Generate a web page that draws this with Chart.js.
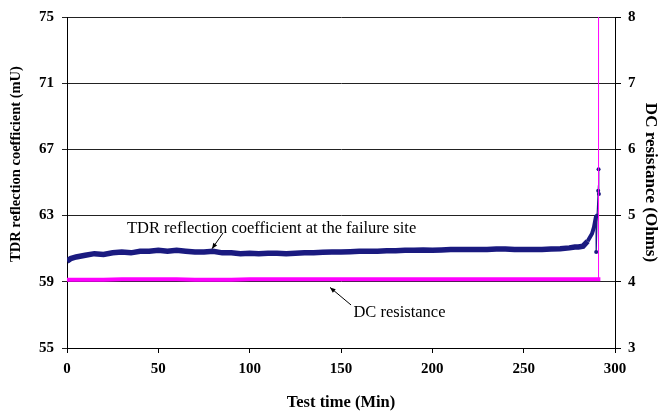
<!DOCTYPE html>
<html>
<head>
<meta charset="utf-8">
<script src="https://cdn.jsdelivr.net/npm/chart.js@4/dist/chart.umd.min.js"></script>
<style>
  html, body { margin: 0; padding: 0; background: #fff; }
  #wrap { width: 661px; height: 417px; }
</style>
</head>
<body>
<div id="wrap"><canvas id="myChart" width="661" height="417"></canvas></div>
<script>
// TDR reflection coefficient (mU) vs test time (min)
const tdrTime = [0, 2, 5, 10, 15, 20, 25, 30, 35, 40, 45, 50, 55, 60, 65, 70, 75, 80, 85, 90,
  95, 100, 105, 110, 115, 120, 125, 130, 135, 140, 145, 150, 155, 160, 165, 170, 175, 180,
  185, 190, 195, 200, 205, 210, 215, 220, 225, 230, 235, 240, 245, 250, 255, 260, 265, 270,
  275, 278, 280, 282.5, 285, 287.4, 288.5, 289, 289.6, 289.7, 290.2, 290.8, 291, 291.2];
const tdrValue = [60.25, 60.4, 60.5, 60.6, 60.7, 60.65, 60.75, 60.8, 60.75, 60.85, 60.85, 60.9,
  60.85, 60.9, 60.85, 60.8, 60.8, 60.85, 60.75, 60.75, 60.7, 60.72, 60.7, 60.72, 60.72, 60.7,
  60.72, 60.75, 60.75, 60.78, 60.8, 60.8, 60.82, 60.85, 60.85, 60.85, 60.88, 60.88, 60.9, 60.9,
  60.92, 60.9, 60.92, 60.95, 60.95, 60.95, 60.95, 60.95, 60.98, 60.98, 60.95, 60.95, 60.95,
  60.95, 60.98, 61.0, 61.05, 61.1, 61.1, 61.15, 61.45, 61.9, 62.3, 62.6, 62.95, 60.8,
  63.0, 64.5, 65.8, 64.3];

// DC resistance (Ohms)
const dcTime = [0, 10, 20, 30, 40, 50, 60, 70, 80, 90, 100, 110, 120, 130, 140, 150, 160, 170,
  180, 190, 200, 210, 220, 230, 240, 250, 260, 270, 280, 292, 291, 291];
const dcValue = [4.03, 4.03, 4.03, 4.04, 4.04, 4.04, 4.04, 4.03, 4.03, 4.03, 4.04, 4.04, 4.04,
  4.04, 4.04, 4.04, 4.04, 4.04, 4.04, 4.04, 4.04, 4.04, 4.04, 4.04, 4.04, 4.04, 4.04, 4.04,
  4.04, 4.04, 4.04, 9.0];

const xTicks = [0, 50, 100, 150, 200, 250, 300];
const tdrTicks = [55, 59, 63, 67, 71, 75];
const dcTicks = [3, 4, 5, 6, 7, 8];

const serif = "'Liberation Serif', 'Times New Roman', serif";
const tickFont = { family: serif, size: 15, weight: "bold" };

const toPoints = (xs, ys) => xs.map((x, i) => ({ x: x, y: ys[i] }));
const fixTicks = (list) => (scale) => {
  scale.ticks = list.map((v) => ({ value: v }));
};

// labels with arrows, placed in data units (x: min, y: mU)
const notes = [
  { text: "TDR reflection coefficient at the failure site", x: 112, y: 62.2,
    from: [85.4, 61.95], to: [79.4, 61.0] },
  { text: "DC resistance", x: 182, y: 57.15,
    from: [155.5, 57.6], to: [144, 58.66] },
];

const notesPlugin = {
  id: "notes",
  afterDatasetsDraw(chart) {
    const ctx = chart.ctx;
    const xs = chart.scales.x;
    const ys = chart.scales.y;
    ctx.save();
    ctx.fillStyle = "#000";
    ctx.strokeStyle = "#000";
    ctx.lineWidth = 1;
    ctx.font = "16.5px " + serif;
    ctx.textAlign = "center";
    ctx.textBaseline = "middle";
    notes.forEach((n) => {
      ctx.fillText(n.text, xs.getPixelForValue(n.x), ys.getPixelForValue(n.y));
      const x1 = xs.getPixelForValue(n.from[0]);
      const y1 = ys.getPixelForValue(n.from[1]);
      const x2 = xs.getPixelForValue(n.to[0]);
      const y2 = ys.getPixelForValue(n.to[1]);
      ctx.beginPath();
      ctx.moveTo(x1, y1);
      ctx.lineTo(x2, y2);
      ctx.stroke();
      const a = Math.atan2(y2 - y1, x2 - x1);
      ctx.beginPath();
      ctx.moveTo(x2, y2);
      ctx.lineTo(x2 - 6 * Math.cos(a - 0.4), y2 - 6 * Math.sin(a - 0.4));
      ctx.lineTo(x2 - 6 * Math.cos(a + 0.4), y2 - 6 * Math.sin(a + 0.4));
      ctx.closePath();
      ctx.fill();
    });

    // left axis title, sits a bit above the middle like the original
    ctx.font = "bold 14.5px " + serif;
    ctx.translate(16, 164);
    ctx.rotate(-Math.PI / 2);
    ctx.fillText("TDR reflection coefficient (mU)", 0, 0);
    ctx.restore();
  },
};

const config = {
  type: "line",
  data: {
    datasets: [
      {
        label: "DC resistance",
        data: toPoints(dcTime, dcValue),
        yAxisID: "y2",
        borderColor: "#ff00ff",
        backgroundColor: "#ff00ff",
        borderWidth: 4,
        pointRadius: 0,
        tension: 0,
        segment: {
          borderWidth: (c) => (c.p1.parsed.y > 5 || c.p0.parsed.y > 5 ? 1 : 4),
        },
      },
      {
        label: "TDR reflection coefficient",
        data: toPoints(tdrTime, tdrValue),
        yAxisID: "y",
        borderColor: "#1a1a80",
        backgroundColor: "#1a1a80",
        borderWidth: 5.5,
        pointRadius: (c) => (c.raw && c.raw.x >= 289.6 ? 2 : 0),
        pointBorderWidth: 0,
        tension: 0,
        segment: {
          borderWidth: (c) => (c.p1.parsed.x >= 289.7 ? 1.2 : c.p1.parsed.x >= 287 ? 4 : 5.5),
        },
      },
    ],
  },
  options: {
    responsive: false,
    animation: false,
    layout: { padding: { top: 15, left: 0, right: 0, bottom: 0 } },
    plugins: {
      legend: { display: false },
      tooltip: { enabled: false },
    },
    scales: {
      x: {
        type: "linear",
        min: 0,
        max: 300,
        afterBuildTicks: fixTicks(xTicks),
        afterFit: (s) => { s.height = 69; },
        grid: { drawOnChartArea: false, color: "#000", tickLength: 5 },
        border: { color: "#000", width: 1 },
        ticks: { color: "#000", font: tickFont, padding: 7 },
        title: {
          display: true, text: "Test time (Min)", color: "#000",
          font: { family: serif, size: 16.5, weight: "bold" }, padding: { top: 4 },
        },
      },
      y: {
        position: "left",
        min: 55,
        max: 75,
        afterBuildTicks: fixTicks(tdrTicks),
        afterFit: (s) => { s.width = 67; },
        grid: { color: "#222", lineWidth: 1, tickLength: 5 },
        border: { color: "#000", width: 1 },
        ticks: { color: "#000", font: tickFont, padding: 8 },
      },
      y2: {
        position: "right",
        min: 3,
        max: 8,
        afterBuildTicks: fixTicks(dcTicks),
        afterFit: (s) => { s.width = 46; },
        grid: { drawOnChartArea: false, color: "#000", tickLength: 6 },
        border: { color: "#000", width: 1 },
        ticks: { color: "#000", font: tickFont, padding: 7 },
        title: {
          display: true, text: "DC resistance (Ohms)", color: "#000",
          font: { family: serif, size: 17, weight: "bold" }, padding: 0,
        },
      },
    },
  },
  plugins: [notesPlugin],
};

const myChart = new Chart(document.getElementById("myChart").getContext("2d"), config);
</script>
</body>
</html>
